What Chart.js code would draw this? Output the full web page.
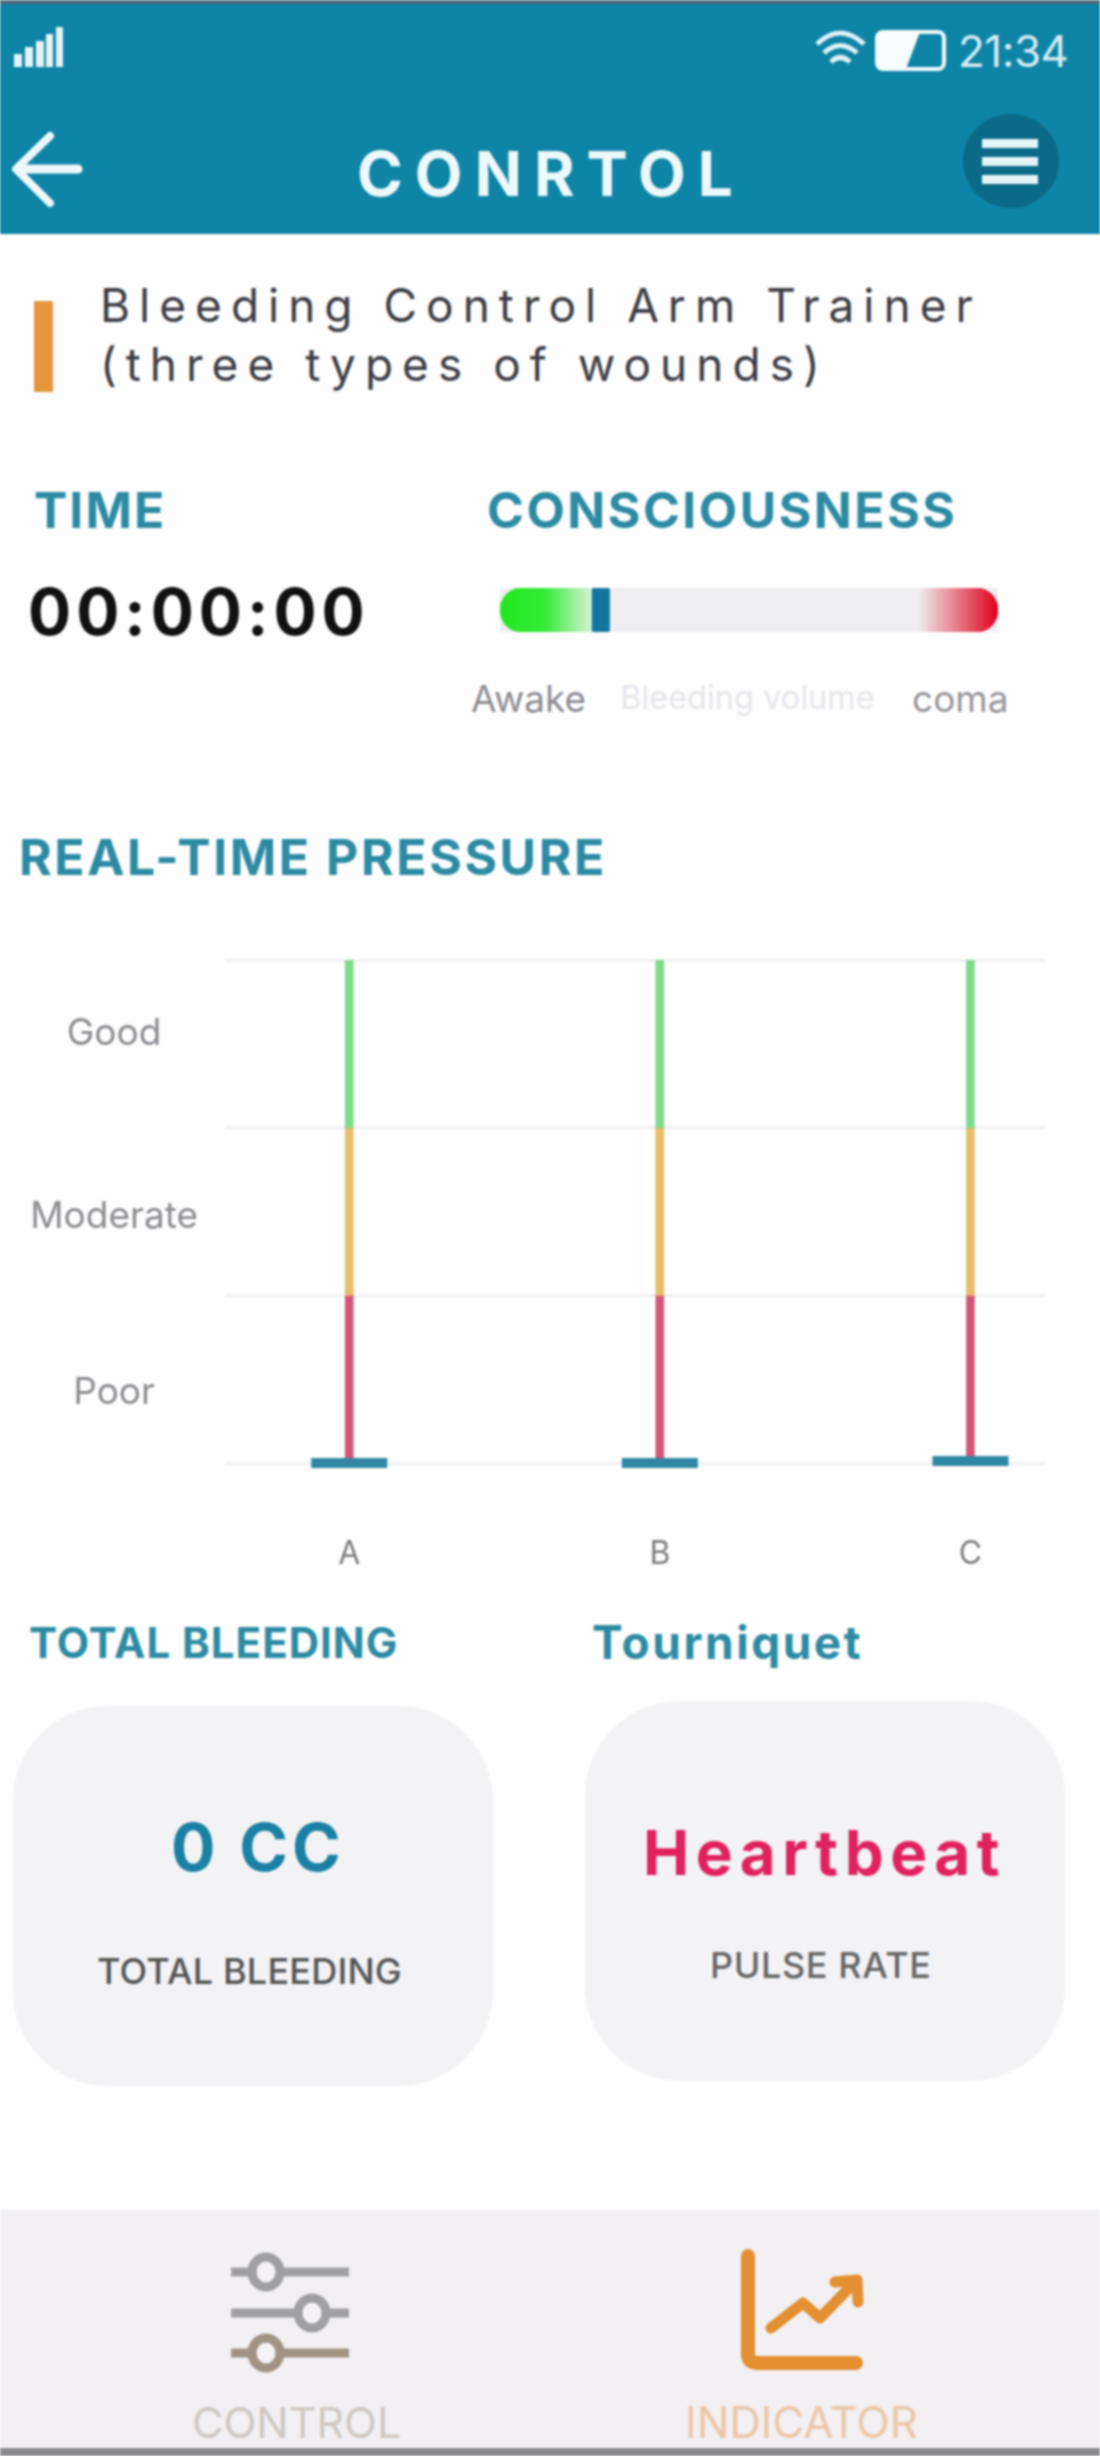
<!DOCTYPE html>
<html>
<head>
<meta charset="utf-8">
<title>Control</title>
<script src="https://cdn.jsdelivr.net/npm/chart.js@4"></script>
<style>
  html, body { margin: 0; padding: 0; background: #fff; }
  #page { position: relative; width: 1100px; height: 2456px; overflow: hidden; font-family: Inter, sans-serif; background: #fefefe; filter: blur(0.8px); }
  .box { position: absolute; }
  .t { position: absolute; white-space: nowrap; line-height: 1; }
  .head { font-weight: 700; color: #2c8aa3; }
  svg, canvas { position: absolute; display: block; }
</style>
</head>
<body>
<div id="page">
  <div class="box" style="left:0;top:0;width:1100px;height:234px;background:#0e84a6"></div>
  <div class="box" style="left:0;top:0;width:1100px;height:4px;background:#4d6a78"></div>

  <svg style="left:0;top:0" width="1100" height="234">
    <g fill="#e4f3f7">
      <rect x="14" y="54" width="8" height="13"/><rect x="25" y="47" width="8" height="20"/>
      <rect x="36" y="41" width="8" height="26"/><rect x="46" y="34" width="7" height="33"/>
      <rect x="56" y="27" width="7" height="40"/>
    </g>
    <g fill="none" stroke="#dff1f6" stroke-width="5">
      <path d="M817 44 Q840 22 864 44"/><path d="M824 53 Q840 38 857 53"/><path d="M831 62 Q840 53 850 62"/>
    </g>
    <rect x="877" y="32" width="67" height="37" rx="6" fill="none" stroke="#f2fafc" stroke-width="4"/>
    <path d="M877 36 Q877 32 882 32 L920 32 L906 69 L882 69 Q877 69 877 64 Z" fill="#f7fcfd"/>
    <g fill="none" stroke="#eef8fb" stroke-linecap="round" stroke-linejoin="round">
      <path d="M50 136 L16 169 L50 203" stroke-width="8"/>
      <path d="M20 169 L78 169" stroke-width="9"/>
    </g>
    <ellipse cx="1011" cy="161" rx="48" ry="47" fill="#0b6a87"/>
    <g fill="#e4f5f9">
      <rect x="982" y="139" width="56" height="9"/><rect x="982" y="157" width="56" height="9"/><rect x="982" y="175" width="56" height="9"/>
    </g>
  </svg>

  <div class="t" style="left:958px;top:29px;font-size:44px;color:#d5ecf2;letter-spacing:-0.5px">21:34</div>
  <div class="t" style="left:357px;top:143px;font-size:62px;font-weight:700;color:#eef9fb;letter-spacing:12px">CONRTOL</div>

  <div class="box" style="left:34px;top:301px;width:19px;height:91px;background:#e3973a"></div>
  <div class="t" style="left:100px;top:282px;font-size:46px;color:#3d3d44;letter-spacing:9px">Bleeding Control Arm Trainer</div>
  <div class="t" style="left:100px;top:341px;font-size:46px;color:#3d3d44;letter-spacing:9px">(three types of wounds)</div>

  <div class="t head" style="left:34px;top:485px;font-size:50px;letter-spacing:2px">TIME</div>
  <div class="t head" style="left:487px;top:485px;font-size:50px;letter-spacing:2.4px">CONSCIOUSNESS</div>
  <div class="t" style="left:28px;top:580px;font-size:64px;font-weight:700;color:#111;letter-spacing:5px">00:00:00</div>

  <canvas id="gaugeChart" width="498" height="44" style="left:500px;top:588px"></canvas>
  <div class="t" style="left:471px;top:680px;font-size:37px;color:#8d8d92">Awake</div>
  <div class="t" style="left:620px;top:682px;font-size:32.5px;color:#e6e6ea">Bleeding volume</div>
  <div class="t" style="left:912px;top:680px;font-size:37px;color:#96969b">coma</div>

  <div class="t head" style="left:19px;top:832px;font-size:50px;letter-spacing:2.5px">REAL-TIME PRESSURE</div>

  <canvas id="pressureChart" width="1100" height="679" style="left:0;top:911px"></canvas>

  <div class="t head" style="left:29px;top:1622px;font-size:42px;letter-spacing:1px">TOTAL BLEEDING</div>
  <div class="t head" style="left:592px;top:1619px;font-size:46px;letter-spacing:2.5px">Tourniquet</div>

  <div class="box" style="left:13px;top:1706px;width:480px;height:380px;border-radius:95px;background:#f3f3f5"></div>
  <div class="box" style="left:585px;top:1701px;width:480px;height:380px;border-radius:95px;background:#f3f3f5"></div>
  <div class="t" style="left:171px;top:1814px;font-size:66px;font-weight:700;color:#1a80a4;letter-spacing:4px">0 CC</div>
  <div class="t" style="left:97px;top:1953px;font-size:36px;font-weight:500;color:#555;letter-spacing:.2px">TOTAL BLEEDING</div>
  <div class="t" style="left:643px;top:1822px;font-size:62px;font-weight:700;color:#e0215f;letter-spacing:6.5px">Heartbeat</div>
  <div class="t" style="left:710px;top:1947px;font-size:36px;font-weight:500;color:#666;letter-spacing:.6px">PULSE RATE</div>

  <div class="box" style="left:0;top:2210px;width:1100px;height:238px;background:#f2f0f3"></div>
  <div class="box" style="left:0;top:2448px;width:1100px;height:8px;background:#8b8b8d"></div>
  <svg style="left:0;top:2210px" width="1100" height="238">
    <g fill="#f4f2f5" stroke-width="9">
      <g stroke="#a0a0a3">
        <path d="M231 62 H349" fill="none"/><ellipse cx="266" cy="62" rx="14" ry="15"/>
        <path d="M231 103 H349" fill="none"/><ellipse cx="312" cy="103" rx="14" ry="15"/>
      </g>
      <g stroke="#a09384">
        <path d="M231 143 H349" fill="none"/><ellipse cx="266" cy="143" rx="14" ry="15"/>
      </g>
    </g>
    <g fill="none" stroke="#e38f32" stroke-linecap="round" stroke-linejoin="round">
      <path d="M748 46 V144 Q748 153 758 153 H856" stroke-width="14"/>
      <path d="M771 118 L803 93 L820 108 L852 75" stroke-width="11"/>
      <path d="M835 72 L857 70 L858 92" stroke-width="11"/>
    </g>
  </svg>
  <div class="t" style="left:192px;top:2401px;font-size:43px;color:#cfc8c4">CONTROL</div>
  <div class="t" style="left:685px;top:2401px;font-size:43.5px;color:#ecc7a7">INDICATOR</div>
</div>

<script>
// pressure chart data
var woundSites = ['A', 'B', 'C'];
var pressureValues = [0, 0, 0.012];
var poorZone = [0, 1];
var moderateZone = [1, 2];
var goodZone = [2, 3];
var levelLabels = ['Poor', 'Moderate', 'Good'];
var levelPositions = [0.42, 1.47, 2.56];
var gridLevels = [0, 1, 2, 3];

// consciousness gauge data (percent of bar)
var gaugeAwake = [0, 18.5];
var gaugeMarker = [18.5, 22];
var gaugeComa = [84, 100];
var gaugeTrack = [0, 100];

function zoneData(zone) {
    return woundSites.map(function (name, i) {
        return { x: i, y: zone };
    });
}

function zoneSet(label, zone, color) {
    return {
        label: label,
        data: zoneData(zone),
        backgroundColor: color,
        barThickness: 8,
        grouped: false,
        yAxisID: 'y'
    };
}

// the axes should not reserve room for half a label past the plot
function noOverhang(scale) {
    scale.paddingTop = 0;
    scale.paddingBottom = 0;
    scale.paddingLeft = 0;
    scale.paddingRight = 0;
}

function onSight() {

    var ctx = document.getElementById('pressureChart').getContext('2d');
    var gaugeCtx = document.getElementById('gaugeChart').getContext('2d');

    new Chart(ctx, {
        type: 'bar',
        data: {
            datasets: [
                {
                    type: 'line',
                    label: 'Pressure',
                    data: pressureValues.map(function (v, i) { return { x: i, y: v }; }),
                    showLine: false,
                    pointStyle: 'line',
                    pointRadius: 38,
                    pointBorderWidth: 10,
                    pointBorderColor: '#2f87a3',
                    clip: false,
                    yAxisID: 'y'
                },
                zoneSet('Good', goodZone, '#7edb8a'),
                zoneSet('Moderate', moderateZone, '#e8bd6b'),
                zoneSet('Poor', poorZone, '#d2557a')
            ]
        },
        options: {
            responsive: false,
            animation: false,
            layout: { padding: { top: 49, right: 55, bottom: 0, left: 0 } },
            plugins: { legend: { display: false }, tooltip: { enabled: false } },
            scales: {
                x: {
                    type: 'linear',
                    min: -0.4,
                    max: 2.24,
                    offset: false,
                    grid: { display: false, drawTicks: false },
                    border: { display: false },
                    afterBuildTicks: function (scale) {
                        scale.ticks = woundSites.map(function (name, i) { return { value: i }; });
                    },
                    afterFit: function (scale) { noOverhang(scale); scale.height = 127; },
                    ticks: {
                        autoSkip: false,
                        maxRotation: 0,
                        padding: 72,
                        color: '#7d7d82',
                        font: { family: 'Inter', size: 32 },
                        callback: function (value) { return woundSites[value]; }
                    }
                },
                y: {
                    min: 0,
                    max: 3,
                    position: 'left',
                    grid: { color: '#f1f0f3', lineWidth: 3, drawTicks: false },
                    border: { display: false },
                    afterBuildTicks: function (scale) {
                        scale.ticks = gridLevels.map(function (v) { return { value: v }; });
                    },
                    afterFit: noOverhang,
                    ticks: { display: false }
                },
                y2: {
                    min: 0,
                    max: 3,
                    position: 'left',
                    grid: { display: false, drawTicks: false },
                    border: { display: false },
                    afterBuildTicks: function (scale) {
                        scale.ticks = levelPositions.map(function (v) { return { value: v }; });
                    },
                    afterFit: function (scale) { noOverhang(scale); scale.width = 225; },
                    ticks: {
                        autoSkip: false,
                        crossAlign: 'center',
                        padding: 27,
                        color: '#8d8d92',
                        font: { family: 'Inter', size: 37 },
                        callback: function (value, index) { return levelLabels[index]; }
                    }
                }
            }
        }
    });

    function gaugeGradient(context, stops) {
        var area = context.chart.chartArea;
        if (!area) { return stops[0][1]; }
        var g = context.chart.ctx.createLinearGradient(area.left, 0, area.right, 0);
        stops.forEach(function (s) { g.addColorStop(s[0], s[1]); });
        return g;
    }

    new Chart(gaugeCtx, {
        type: 'bar',
        data: {
            labels: ['Consciousness'],
            datasets: [
                {
                    label: 'Marker',
                    data: [gaugeMarker],
                    backgroundColor: '#1277a0',
                    borderRadius: 2,
                    borderSkipped: false,
                    grouped: false
                },
                {
                    label: 'Awake',
                    data: [gaugeAwake],
                    backgroundColor: function (c) {
                        return gaugeGradient(c, [[0, '#22e822'], [0.09, '#35ea35'], [0.185, '#d9f2d9']]);
                    },
                    borderRadius: { topLeft: 22, bottomLeft: 22 },
                    borderSkipped: false,
                    grouped: false
                },
                {
                    label: 'Coma',
                    data: [gaugeComa],
                    backgroundColor: function (c) {
                        return gaugeGradient(c, [[0, '#eeeef0'], [0.84, '#eeeef0'], [1, '#e0001c']]);
                    },
                    borderRadius: { topRight: 22, bottomRight: 22 },
                    borderSkipped: false,
                    grouped: false
                },
                {
                    label: 'Track',
                    data: [gaugeTrack],
                    backgroundColor: '#eeeef0',
                    borderSkipped: false,
                    grouped: false
                }
            ]
        },
        options: {
            indexAxis: 'y',
            responsive: false,
            animation: false,
            layout: { padding: 0 },
            datasets: { bar: { barPercentage: 1, categoryPercentage: 1 } },
            plugins: { legend: { display: false }, tooltip: { enabled: false } },
            scales: {
                x: { display: false, min: 0, max: 100 },
                y: { display: false }
            }
        }
    });

}

document.addEventListener('DOMContentLoaded', onSight);
</script>
</body>
</html>
